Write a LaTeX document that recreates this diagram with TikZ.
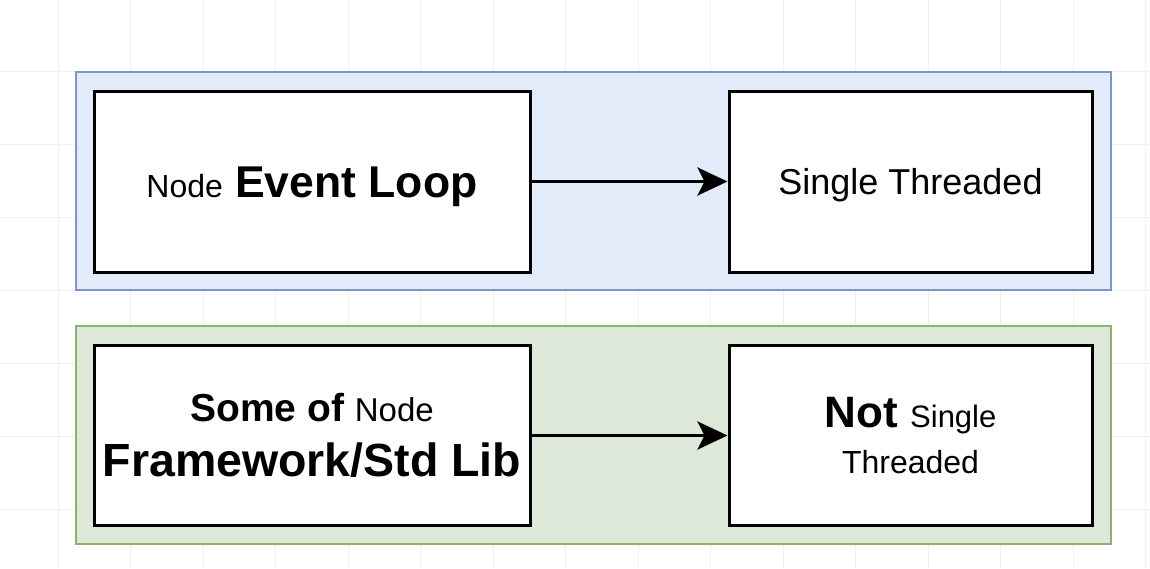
\documentclass[tikz,border=0pt]{standalone}
\usepackage{fontspec}
\setmainfont{Liberation Sans}
\usetikzlibrary{arrows.meta}
\definecolor{bluefill}{RGB}{226,235,250}
\definecolor{bluestroke}{RGB}{124,150,198}
\definecolor{greenfill}{RGB}{222,232,216}
\definecolor{greenstroke}{RGB}{140,178,114}
\definecolor{gridc}{RGB}{240,240,240}
\tikzset{
  container/.style={draw=#1stroke, fill=#1fill, line width=2.2pt},
  innerbox/.style={draw=black, fill=white, line width=3pt, align=center, inner sep=0pt},
  conn/.style={line width=3.5pt, -{Stealth[length=30pt,width=28pt,inset=7pt]}},
}
\begin{document}
\begin{tikzpicture}[x=1pt,y=-1pt]
\useasboundingbox (0,0) rectangle (1150,568);
\fill[white] (0,0) rectangle (1150,568);
% faint grid
\foreach \gx in {58,130.5,...,1150} \draw[gridc, line width=1pt] (\gx,0) -- (\gx,568);
\foreach \gy in {71,144,...,568} \draw[gridc, line width=1pt] (0,\gy) -- (1150,\gy);
% containers
\draw[container=blue] (76,72) rectangle (1111,290);
\draw[container=green] (76,326) rectangle (1111,544);
% boxes
\node[innerbox, minimum width=436pt, minimum height=181pt, text height=41pt, text depth=9pt,
      font=\fontsize{32}{37}\selectfont] (loop) at (312,181.5)
  {Node{\fontsize{44.5}{52}\selectfont\bfseries\ Event Loop}};
\node[innerbox, minimum width=363pt, minimum height=181pt, text height=34pt, text depth=7.5pt,
      font=\fontsize{36}{42}\selectfont] (single) at (910.5,181.5)
  {Single Threaded};
\node[innerbox, minimum width=436pt, minimum height=180pt,
      font=\fontsize{46.5}{55}\selectfont] (lib) at (312,435.5)
  {{\fontsize{39}{55}\selectfont\bfseries Some of\ }{\fontsize{33}{55}\selectfont Node}\\
   {\bfseries Framework/Std Lib}};
\node[innerbox, minimum width=363pt, minimum height=180pt,
      font=\fontsize{32}{46}\selectfont] (notsingle) at (910.5,435.5)
  {{\fontsize{44}{46}\selectfont\bfseries Not\ }{\fontsize{31}{46}\selectfont Single}\\
   Threaded};
% connectors
\draw[conn] (loop.east) -- (single.west);
\draw[conn] (lib.east) -- (notsingle.west);
\end{tikzpicture}
\end{document}
